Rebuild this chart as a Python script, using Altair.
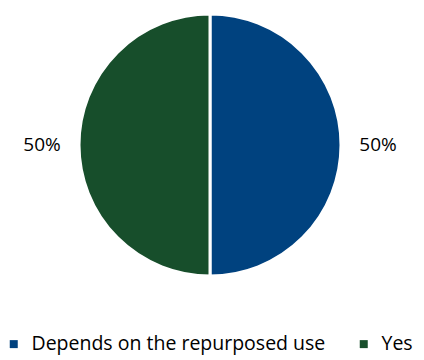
import altair as alt
import pandas as pd

categories = ["Depends on the repurposed use", "Yes"]
values = [50, 50]
labels = ["50%", "50%"]
colors = ["#00427F", "#174E2B"]

df = pd.DataFrame({"cat": categories, "val": values, "lab": labels, "order": [0, 1]})

base = alt.Chart(df).encode(
    theta=alt.Theta("val:Q", stack=True),
    order=alt.Order("order:Q"),
    x=alt.value(210),
    y=alt.value(145),
)

arc = base.mark_arc(radius=131, stroke="white", strokeWidth=3).encode(
    color=alt.Color(
        "cat:N",
        sort=categories,
        scale=alt.Scale(domain=categories, range=colors),
        legend=alt.Legend(
            title=None,
            orient="none",
            legendX=4,
            legendY=334,
            direction="horizontal",
            symbolType="square",
            symbolSize=64,
            symbolStrokeWidth=0,
            labelFontSize=19.5,
            labelFont="Open Sans",
            labelColor="#000000",
            labelOffset=8,
            columnPadding=28,
            labelLimit=400,
        ),
    )
)

text = base.mark_text(radius=168, fontSize=19, font="Open Sans", color="#000000").encode(
    text="lab:N"
)

chart = (
    alt.layer(arc, text)
    .properties(width=424, height=360, autosize=alt.AutoSizeParams(type="none"), padding=0)
    .configure_view(stroke=None)
)

chart.save("out.html", embed_options={"renderer": "svg", "actions": False})
